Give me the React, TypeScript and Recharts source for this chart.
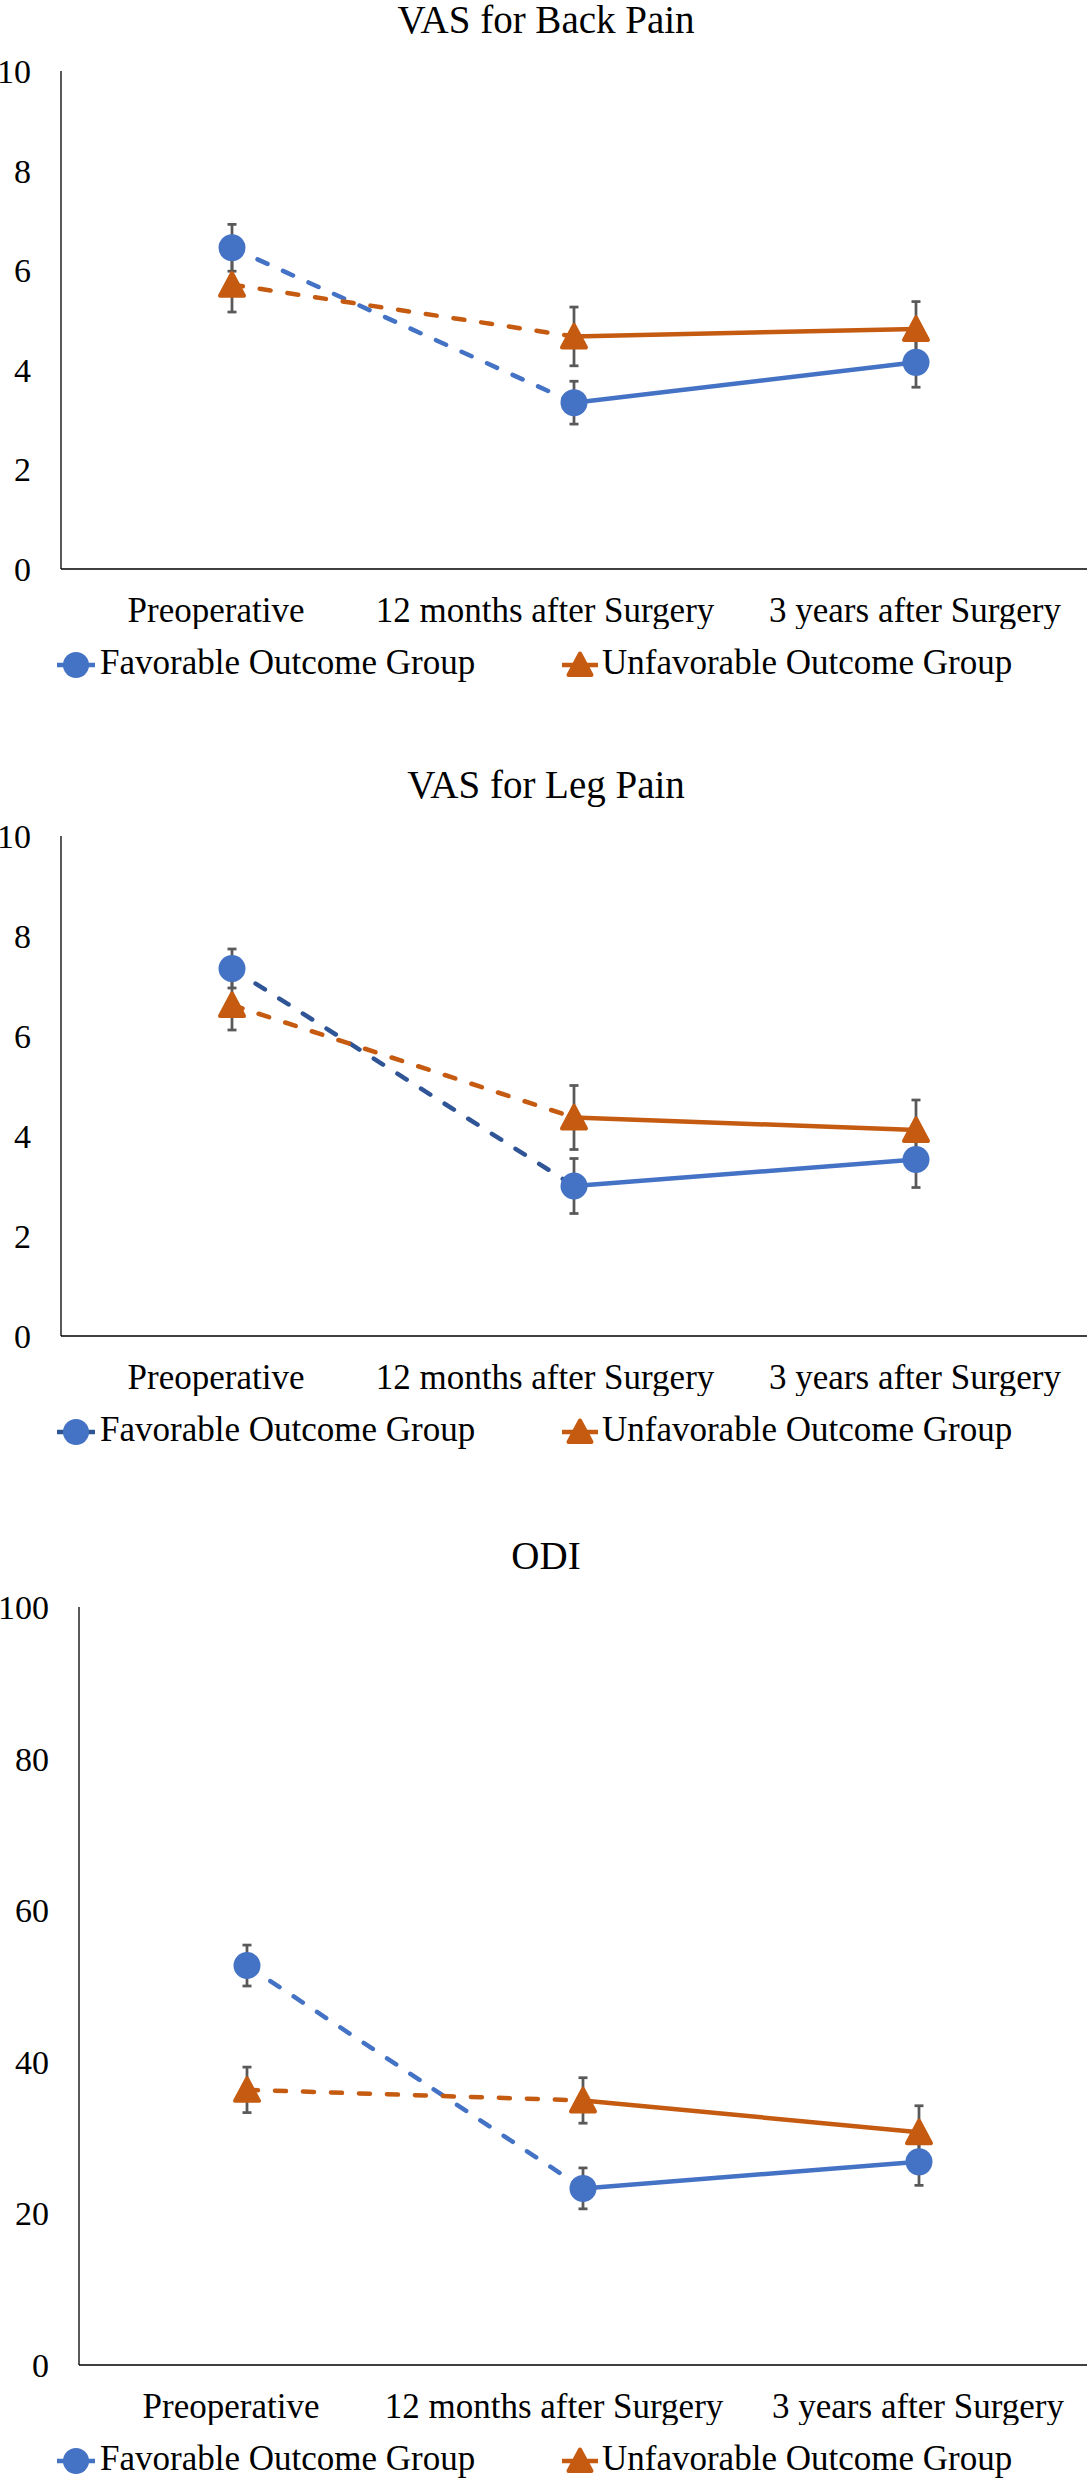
import { LineChart, Line, XAxis, YAxis, ErrorBar } from "recharts";

const FONT = "Liberation Serif";
const BLUE = "#4472C4";
const BLUE_DARK = "#2F5597";
const ORANGE = "#C55A11";
const ERR_GREY = "#595959";
const PAGE_W = 1089;

// categories + values (mean ± error)
const CATEGORIES = ["Preoperative", "12 months after Surgery", "3 years after Surgery"];

const BACK_FAV = [6.45, 3.34, 4.15];
const BACK_FAV_ERR = [0.47, 0.43, 0.5];
const BACK_UNF = [5.71, 4.67, 4.82];
const BACK_UNF_ERR = [0.55, 0.59, 0.55];

const LEG_FAV = [7.35, 3.0, 3.53];
const LEG_FAV_ERR = [0.39, 0.55, 0.56];
const LEG_UNF = [6.62, 4.37, 4.12];
const LEG_UNF_ERR = [0.5, 0.64, 0.6];

const ODI_FAV = [52.7, 23.3, 26.8];
const ODI_FAV_ERR = [2.7, 2.7, 3.1];
const ODI_UNF = [36.3, 34.9, 30.7];
const ODI_UNF_ERR = [3.0, 3.0, 3.5];

const VAS_TICKS = [0, 2, 4, 6, 8, 10];
const ODI_TICKS = [0, 20, 40, 60, 80, 100];

// small horizontal nudge of the category labels (they sit a bit left of the band centres)
const LABEL_NUDGE = [-16, -29, -1];

const AXIS_LINE = { stroke: "#000", strokeWidth: 1.3 };
const LINE_W = 4.5;

function buildRows(fav: number[], favErr: number[], unf: number[], unfErr: number[]) {
  // first interval is drawn dashed, second solid
  return CATEGORIES.map((cat, i) => ({
    cat,
    fav: fav[i],
    favErr: favErr[i],
    unf: unf[i],
    unfErr: unfErr[i],
    favDash: i <= 1 ? fav[i] : null,
    favSolid: i >= 1 ? fav[i] : null,
    unfDash: i <= 1 ? unf[i] : null,
    unfSolid: i >= 1 ? unf[i] : null,
  }));
}

function XTick(props: any) {
  const { x, y, payload, index } = props;
  return (
    <text
      x={x + (LABEL_NUDGE[index] ?? 0)}
      y={y}
      dy="0.71em"
      textAnchor="middle"
      style={{ fontFamily: FONT, fontSize: 35 }}
      fill="#000"
    >
      {payload.value}
    </text>
  );
}

const circleDot = (color: string) => (p: any) => {
  if (p.cx == null || p.cy == null) return <g key={p.index} />;
  return <circle key={p.index} cx={p.cx} cy={p.cy} r={13.5} fill={color} />;
};

const triangleDot = (color: string) => (p: any) => {
  if (p.cx == null || p.cy == null) return <g key={p.index} />;
  const { cx, cy } = p;
  return (
    <path
      key={p.index}
      d={`M${cx},${cy - 11.5} L${cx + 12},${cy + 11} L${cx - 12},${cy + 11} Z`}
      fill={color}
      stroke={color}
      strokeWidth={4}
      strokeLinejoin="round"
    />
  );
};

function LegendRow({ top, favLine }: { top: number; favLine: string }) {
  const text: React.CSSProperties = {
    position: "absolute",
    top,
    fontFamily: FONT,
    fontSize: 35,
    lineHeight: "40px",
    color: "#000",
    whiteSpace: "nowrap",
  };
  return (
    <>
      <svg style={{ position: "absolute", left: 57, top }} width={40} height={40}>
        <line x1={0} x2={38} y1={22} y2={22} stroke={favLine} strokeWidth={LINE_W} />
        <circle cx={19} cy={22} r={13} fill={BLUE} />
      </svg>
      <div style={{ ...text, left: 100 }}>Favorable Outcome Group</div>
      <svg style={{ position: "absolute", left: 562, top }} width={40} height={40}>
        <line x1={0} x2={36} y1={22} y2={22} stroke={ORANGE} strokeWidth={LINE_W} />
        <path
          d="M18,10.5 L29.5,32 L6.5,32 Z"
          fill={ORANGE}
          stroke={ORANGE}
          strokeWidth={4}
          strokeLinejoin="round"
        />
      </svg>
      <div style={{ ...text, left: 602 }}>Unfavorable Outcome Group</div>
    </>
  );
}

interface ChartProps {
  title: string;
  rows: ReturnType<typeof buildRows>;
  ticks: number[];
  plotTop: number;
  plotBottom: number;
  plotLeft: number;
  favDashColor: string;
}

function OutcomeChart({ title, rows, ticks, plotTop, plotBottom, plotLeft, favDashColor }: ChartProps) {
  const axisH = 60;
  const top = plotTop - 10;
  const height = plotBottom - top + axisH;
  const rightM = 2;
  const pad = (PAGE_W - rightM - plotLeft) / 6;
  const titleBaseline = plotTop - 38;

  return (
    <>
      <div
        style={{
          position: "absolute",
          left: 0,
          top: Math.max(0, titleBaseline - 33),
          width: PAGE_W,
          paddingLeft: 3,
          boxSizing: "border-box",
          textAlign: "center",
          fontFamily: FONT,
          fontSize: 39,
          lineHeight: "39px",
          color: "#000",
        }}
      >
        {title}
      </div>
      <div style={{ position: "absolute", left: 0, top, width: PAGE_W, height }}>
        <LineChart
          width={PAGE_W}
          height={height}
          data={rows}
          margin={{ top: plotTop - top, right: rightM, bottom: 0, left: 0 }}
        >
          <XAxis
            dataKey="cat"
            height={axisH}
            interval={0}
            padding={{ left: pad, right: pad }}
            tickSize={0}
            tickMargin={28}
            tickLine={false}
            axisLine={AXIS_LINE}
            tick={<XTick />}
          />
          <XAxis
            xAxisId="top"
            dataKey="cat"
            orientation="top"
            height={0}
            tick={false}
            tickLine={false}
            axisLine={AXIS_LINE}
          />
          <YAxis
            domain={[ticks[0], ticks[ticks.length - 1]]}
            ticks={ticks}
            interval={0}
            width={plotLeft}
            tickSize={0}
            tickMargin={30}
            tickLine={false}
            axisLine={AXIS_LINE}
            tick={{ fontSize: 34, fontFamily: FONT, fill: "#000" }}
          />
          <YAxis
            yAxisId="right"
            orientation="right"
            width={0}
            tick={false}
            tickLine={false}
            axisLine={AXIS_LINE}
          />

          {/* error bars first so the markers sit on top of them */}
          <Line dataKey="fav" stroke="none" dot={false} activeDot={false} legendType="none" isAnimationActive={false}>
            <ErrorBar dataKey="favErr" direction="y" width={4.5} strokeWidth={2.75} stroke={ERR_GREY} />
          </Line>
          <Line dataKey="unf" stroke="none" dot={false} activeDot={false} legendType="none" isAnimationActive={false}>
            <ErrorBar dataKey="unfErr" direction="y" width={4.5} strokeWidth={2.75} stroke={ERR_GREY} />
          </Line>

          <Line
            dataKey="favDash"
            stroke={favDashColor}
            strokeWidth={LINE_W}
            strokeDasharray="11 17"
            strokeLinecap="round"
            dot={false}
            activeDot={false}
            isAnimationActive={false}
          />
          <Line
            dataKey="favSolid"
            stroke={BLUE}
            strokeWidth={LINE_W}
            dot={false}
            activeDot={false}
            isAnimationActive={false}
          />
          <Line
            dataKey="unfDash"
            stroke={ORANGE}
            strokeWidth={LINE_W}
            strokeDasharray="11 17"
            strokeLinecap="round"
            dot={false}
            activeDot={false}
            isAnimationActive={false}
          />
          <Line
            dataKey="unfSolid"
            stroke={ORANGE}
            strokeWidth={LINE_W}
            dot={false}
            activeDot={false}
            isAnimationActive={false}
          />

          <Line dataKey="fav" stroke="none" dot={circleDot(BLUE)} activeDot={false} legendType="none" isAnimationActive={false} />
          <Line dataKey="unf" stroke="none" dot={triangleDot(ORANGE)} activeDot={false} legendType="none" isAnimationActive={false} />
        </LineChart>
      </div>
      <LegendRow top={plotBottom + 106 - 32} favLine={favDashColor} />
    </>
  );
}

export default function App() {
  return (
    <div
      style={{
        position: "absolute",
        left: 0,
        top: 0,
        width: PAGE_W,
        height: 2481,
        background: "#fff",
        overflow: "hidden",
      }}
    >
      <OutcomeChart
        title="VAS for Back Pain"
        rows={buildRows(BACK_FAV, BACK_FAV_ERR, BACK_UNF, BACK_UNF_ERR)}
        ticks={VAS_TICKS}
        plotTop={71}
        plotBottom={569}
        plotLeft={61}
        favDashColor={BLUE}
      />
      <OutcomeChart
        title="VAS for Leg Pain"
        rows={buildRows(LEG_FAV, LEG_FAV_ERR, LEG_UNF, LEG_UNF_ERR)}
        ticks={VAS_TICKS}
        plotTop={836}
        plotBottom={1336}
        plotLeft={61}
        favDashColor={BLUE_DARK}
      />
      <OutcomeChart
        title="ODI"
        rows={buildRows(ODI_FAV, ODI_FAV_ERR, ODI_UNF, ODI_UNF_ERR)}
        ticks={ODI_TICKS}
        plotTop={1607}
        plotBottom={2365}
        plotLeft={79}
        favDashColor={BLUE}
      />
    </div>
  );
}
